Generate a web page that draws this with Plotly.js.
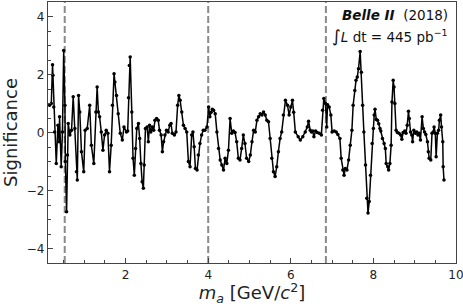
<!DOCTYPE html>
<html>
<head>
<meta charset="utf-8">
<script src="https://cdn.plot.ly/plotly-3.0.1.min.js"></script>
<style>html,body{margin:0;padding:0;background:#fff;}#chart{width:463px;height:306px;}</style>
</head>
<body>
<div id="chart"></div>
<script>
const massValues = [
  0.16, 0.20, 0.23, 0.24, 0.26, 0.28, 0.32, 0.36, 0.39, 0.40, 0.44, 0.47, 0.50, 0.53, 0.54, 0.57, 0.59, 0.61, 0.65, 0.69,
  0.73, 0.77, 0.81, 0.83, 0.86, 0.89, 0.93, 0.985, 1.02, 1.07, 1.13, 1.17, 1.23, 1.28, 1.31, 1.34, 1.37, 1.41, 1.45, 1.49,
  1.53, 1.57, 1.61, 1.65, 1.68, 1.72, 1.74, 1.78, 1.82, 1.87, 1.92, 1.96, 2.02, 2.05, 2.07, 2.09, 2.11, 2.15, 2.18, 2.21,
  2.24, 2.27, 2.31, 2.34, 2.37, 2.40, 2.43, 2.45, 2.48, 2.52, 2.55, 2.58, 2.61, 2.65, 2.68, 2.71, 2.75, 2.79, 2.82, 2.86,
  2.89, 2.92, 2.95, 2.99, 3.03, 3.07, 3.10, 3.13, 3.18, 3.22, 3.26, 3.29, 3.32, 3.36, 3.40, 3.44, 3.48, 3.52, 3.56, 3.60,
  3.63, 3.66, 3.69, 3.73, 3.76, 3.80, 3.84, 3.88, 3.92, 3.97, 4.01, 4.04, 4.07, 4.10, 4.13, 4.17, 4.21, 4.25, 4.29, 4.33,
  4.37, 4.41, 4.45, 4.49, 4.53, 4.57, 4.61, 4.65, 4.69, 4.73, 4.77, 4.81, 4.85, 4.89, 4.93, 4.98, 5.02, 5.06, 5.10, 5.14,
  5.18, 5.22, 5.26, 5.30, 5.34, 5.38, 5.42, 5.46, 5.50, 5.54, 5.58, 5.62, 5.66, 5.70, 5.74, 5.78, 5.82, 5.87, 5.92, 5.96,
  6.00, 6.04, 6.07, 6.11, 6.18, 6.23, 6.29, 6.35, 6.40, 6.43, 6.47, 6.50, 6.53, 6.56, 6.60, 6.64, 6.69, 6.74, 6.77, 6.80,
  6.84, 6.87, 6.89, 6.93, 6.97, 7.00, 7.05, 7.10, 7.14, 7.19, 7.22, 7.26, 7.29, 7.32, 7.36, 7.40, 7.44, 7.48, 7.51, 7.55,
  7.58, 7.61, 7.64, 7.68, 7.71, 7.74, 7.77, 7.81, 7.84, 7.87, 7.90, 7.93, 7.97, 8.00, 8.02, 8.04, 8.07, 8.10, 8.13, 8.16,
  8.18, 8.22, 8.26, 8.29, 8.31, 8.35, 8.37, 8.40, 8.43, 8.45, 8.48, 8.50, 8.52, 8.55, 8.58, 8.62, 8.66, 8.69, 8.72, 8.76,
  8.79, 8.82, 8.85, 8.87, 8.90, 8.93, 8.95, 8.98, 9.02, 9.05, 9.08, 9.11, 9.14, 9.18, 9.21, 9.24, 9.27, 9.31, 9.33, 9.35,
  9.39, 9.42, 9.45, 9.47, 9.50, 9.52, 9.55, 9.58, 9.60, 9.63, 9.65, 9.68, 9.69, 9.71
];
const significance = [
  0.94, 1.0, 2.34, 1.97, 0.88, 0.02, -1.07, 0.25, -0.32, 0.54, -1.18, 0.02, 2.83, 0.94, -1.0, -2.73, -0.78, 0.31, -0.09, 0.08,
  1.23, 0.14, -1.35, -1.64, 1.28, 0.71, -0.66, -1.35, 0.08, 0.14, 0.94, -0.44, -1.07, 0.71, 1.57, 0.71, 0.54, 0.02, -0.61, -0.09,
  0.08, -0.03, -1.35, -0.44, 0.94, 2.03, 1.74, 1.28, 0.65, -0.03, -0.26, 0.19, 0.02, 0.05, 1.2, 2.31, 2.6, 0.71, -0.89, -1.47,
  -0.55, 0.14, 0.31, -0.21, -1.07, -1.70, -1.92, -1.12, 0.14, 0.19, -0.32, 0.25, 0.02, 0.19, 0.08, 0.42, 0.48, 0.42, 0.08, -0.09,
  -0.66, -0.32, -0.09, 0.08, 0.02, 0.25, 0.31, -0.03, -0.09, 0.02, 0.94, 1.28, 1.11, 0.71, 0.25, 0.14, 0.02, -1.0, -1.18, -0.09,
  0.02, -0.49, -1.24, -1.29, -0.78, -0.38, -0.09, 0.08, 0.08, 0.19, 0.88, 0.54, 0.7, 0.8, 0.77, 0.65, 0.02, -0.55, -0.95, -1.12,
  -1.29, -0.89, -1.07, -0.61, 0.48, -0.03, 0.05, 0.0, -0.32, -0.89, -0.95, -0.55, -0.09, -0.38, -0.89, -1.0, -0.78, -0.32, 0.08, 0.02,
  0.42, 0.54, 0.65, 0.60, 0.71, 0.60, 0.42, 0.37, -0.21, -0.89, -1.35, -1.52, -1.18, -0.66, -0.21, 0.02, 0.60, 1.11, 0.94, 0.60,
  0.88, 1.11, 0.7, 0.02, -0.15, -0.26, -0.15, 0.02, 0.19, 0.39, 0.08, 0.02, 0.05, -0.15, 0.05, 0.0, -0.03, -0.09, 0.77, 1.17,
  1.0, 0.19, 0.96, 0.88, 0.60, 0.02, 0.05, 0.02, -0.07, -0.21, -0.89, -1.29, -1.47, -1.24, -1.29, -0.95, -0.44, 0.08, 0.94, 1.45,
  1.80, 1.91, 2.2, 2.79, 2.08, 0.94, 0.02, -1.12, -2.27, -2.78, -2.38, -1.47, -0.38, 0.14, 0.6, 0.8, 0.45, 0.42, 0.3, 0.14,
  0.05, -0.21, -0.38, -0.55, -1.07, -1.18, -1.29, -1.07, -0.44, 1.05, 1.80, 1.57, 1.0, 0.08, 0.0, -0.03, -0.09, -0.23, 0.0, 0.05,
  -0.03, 0.25, 0.73, 0.48, 0.02, -0.09, -0.32, 0.08, -0.03, 0.02, -0.09, -0.03, -0.26, 0.54, 0.14, 0.02, -0.07, -0.32, -0.66, -0.89,
  -0.95, -0.03, 0.02, 0.19, -0.03, -0.84, -0.03, 0.08, 0.42, 0.60, 0.19, -0.32, -1.18, -1.64
];
const boundaryMasses = [0.525, 4.0, 6.85];
const xTickVals = [2, 4, 6, 8, 10];
const yTickVals = [-4, -2, 0, 2, 4];
const yTickText = ['\u22124', '\u22122', '0', '2', '4'];

const trace = {
  x: massValues,
  y: significance,
  type: 'scatter',
  mode: 'lines+markers',
  line: {color: '#000000', width: 1.5},
  marker: {color: '#000000', size: 3.5},
  hoverinfo: 'skip'
};

const shapes = boundaryMasses.map(m => ({
  type: 'line', xref: 'x', yref: 'paper', x0: m, x1: m, y0: 0, y1: 1,
  line: {color: '#8a8a8a', width: 2, dash: '7px,3px'}, layer: 'below'
}));

const fontFam = 'DejaVu Sans, sans-serif';
const layout = {
  width: 463, height: 306,
  margin: {l: 48, r: 7, t: 2, b: 43},
  paper_bgcolor: '#ffffff', plot_bgcolor: '#ffffff',
  showlegend: false,
  font: {family: fontFam, color: '#222', size: 12},
  xaxis: {
    range: [0.12, 10.001], showgrid: false, zeroline: false,
    showline: true, linecolor: '#444', linewidth: 1.2, mirror: true,
    ticks: 'inside', ticklen: 5, tickwidth: 1, tickcolor: '#444',
    tickvals: xTickVals, ticktext: xTickVals.map(String),
    ticklabeloverflow: 'allow',
    tickfont: {family: fontFam, size: 12, color: '#222'},
    minor: {dtick: 0.5, ticks: 'inside', ticklen: 3, tickcolor: '#444', showgrid: false},
    title: {text: '<i>m</i><sub><i>a</i></sub> [GeV/<i>c</i><sup>2</sup>]', font: {family: fontFam, size: 18, color: '#222'}, standoff: 3}
  },
  yaxis: {
    range: [-4.5, 4.5], showgrid: false, zeroline: false,
    showline: true, linecolor: '#444', linewidth: 1.2, mirror: true,
    ticks: 'inside', ticklen: 5, tickwidth: 1, tickcolor: '#444',
    tickvals: yTickVals, ticktext: yTickText,
    tickfont: {family: fontFam, size: 12, color: '#222'},
    minor: {dtick: 0.5, ticks: 'inside', ticklen: 3, tickcolor: '#444', showgrid: false},
    title: {text: 'Significance', font: {family: fontFam, size: 18, color: '#222'}, standoff: 4}
  },
  shapes: shapes,
  annotations: [
    {xref: 'paper', yref: 'paper', x: 0.985, y: 0.99, xanchor: 'right', yanchor: 'top', showarrow: false,
     text: '<b><i>Belle II</i></b>  (2018)', font: {family: fontFam, size: 13.5, color: '#111'}},
    {xref: 'paper', yref: 'paper', x: 0.985, y: 0.915, xanchor: 'right', yanchor: 'top', showarrow: false,
     text: '<span style="font-size:17px">\u222B</span><i>L</i> dt = 445 pb<sup>\u22121</sup>', font: {family: fontFam, size: 13.5, color: '#111'}}
  ]
};

Plotly.newPlot('chart', [trace], layout, {displayModeBar: false, staticPlot: true});
</script>
</body>
</html>
